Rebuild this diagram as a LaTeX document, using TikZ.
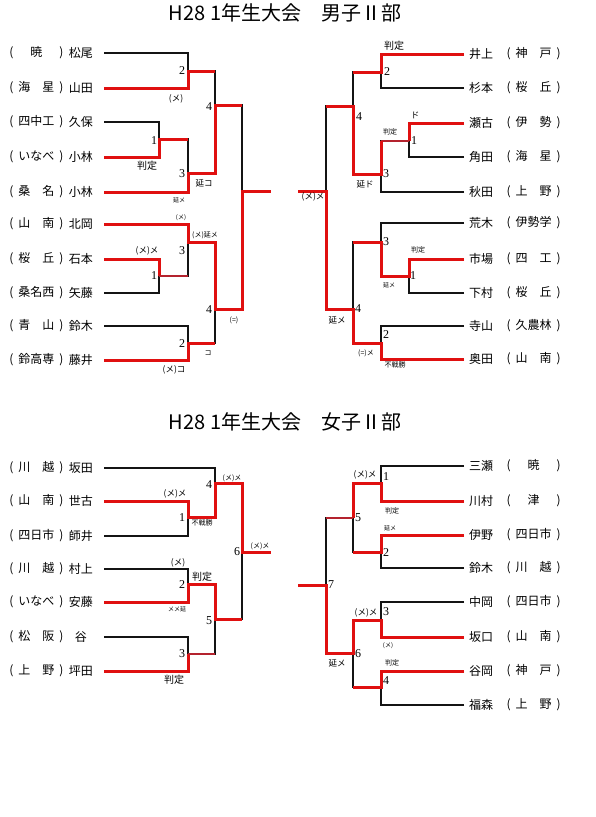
\documentclass[tikz,border=0pt]{standalone}
\usepackage{fontspec}
\setmainfont{Noto Sans CJK JP}
\newfontfamily\numfont{Liberation Serif}
\usepackage{xcolor}
\definecolor{cWin}{HTML}{E01010}
\definecolor{cWinDark}{HTML}{B4232E}
\definecolor{cLine}{HTML}{141414}
\usepackage{tikz}
\usetikzlibrary{positioning}
\newcommand{\sch}[1]{(\hspace{5pt}\makebox[36pt]{#1}\hspace{5pt})}
\tikzset{
  node-title/.style={font=\fontsize{20}{22}\selectfont,inner sep=0pt},
  node-name/.style={font=\fontsize{12}{14}\selectfont,inner sep=0pt,minimum width=24pt},
  node-school/.style={font=\fontsize{12}{14}\selectfont,inner sep=0pt},
  node-num/.style={font=\numfont\fontsize{12}{13}\selectfont,inner sep=0pt},
  node-lab-xs/.style={font=\fontsize{6}{7}\selectfont,inner sep=0pt},
  node-lab-s/.style={font=\fontsize{7}{8}\selectfont,inner sep=0pt},
  node-lab-m/.style={font=\fontsize{8.5}{9}\selectfont,inner sep=0pt},
  node-lab-l/.style={font=\fontsize{10}{11}\selectfont,inner sep=0pt},
  line-lose/.style={draw=cLine,line width=1.2pt},
  line-win/.style={draw=cWin,line width=3pt},
  line-win-thin/.style={draw=cWinDark,line width=1.5pt},
}
\begin{document}
\begin{tikzpicture}[x=1pt,y=-1pt]
  \useasboundingbox (0,0) rectangle (595,817);
  % titles
  \node[node-title] (title-b) at (285,13) {H28 1年生大会　男子Ⅱ部};
  \node[node-title] (title-g) at (285,422) {H28 1年生大会　女子Ⅱ部};

  % ---- boys, left half
  \foreach \i/\y/\nm/\sc in {1/53/松尾/{　暁　},2/88/山田/{海　星},3/122/久保/四中工,
      4/157/小林/いなべ,5/192/小林/{桑　名},6/224/北岡/{山　南},7/259/石本/{桜　丘},
      8/293/矢藤/桑名西,9/326/鈴木/{青　山},10/360/藤井/鈴高専}{
    \coordinate (bl-p\i) at (104,\y);
    \node[node-name,left=11pt of bl-p\i] (bl-n\i) {\nm};
    \node[node-school,left=5pt of bl-n\i] (bl-s\i) {\sch{\sc}};
  }
  \coordinate (bl-m2a) at (188,71);
  \coordinate (bl-m1a) at (159,139);
  \coordinate (bl-m3a) at (188,173);
  \coordinate (bl-m4a) at (215,105);
  \coordinate (bl-m3b) at (188,242);
  \coordinate (bl-m1b) at (159,276);
  \coordinate (bl-m2b) at (188,343);
  \coordinate (bl-m4b) at (215,309);
  \coordinate (bl-f) at (242,191);
  \coordinate (bl-end) at (271,191);

  % ---- boys, right half
  \foreach \i/\y/\nm/\sc in {1/54/井上/{神　戸},2/88/杉本/{桜　丘},3/123/瀬古/{伊　勢},
      4/157/角田/{海　星},5/192/秋田/{上　野},6/223/荒木/伊勢学,7/259/市場/{四　工},
      8/293/下村/{桜　丘},9/326/寺山/久農林,10/359/奥田/{山　南}}{
    \coordinate (br-p\i) at (464,\y);
    \node[node-name,right=5pt of br-p\i] (br-n\i) {\nm};
    \node[node-school,right=13pt of br-n\i] (br-s\i) {\sch{\sc}};
  }
  \coordinate (br-m2a) at (381,72);
  \coordinate (br-m1a) at (409,141);
  \coordinate (br-m3a) at (381,174);
  \coordinate (br-m4a) at (353,106);
  \coordinate (br-m3b) at (381,242);
  \coordinate (br-m1b) at (409,276);
  \coordinate (br-m2b) at (381,343);
  \coordinate (br-m4b) at (353,309);
  \coordinate (br-f) at (326,191);
  \coordinate (br-end) at (298,191);

  % ---- girls, left half
  \foreach \i/\y/\nm/\sc in {1/468/坂田/{川　越},2/501/世古/{山　南},3/536/師井/四日市,
      4/569/村上/{川　越},5/602/安藤/いなべ,6/637/谷/{松　阪},7/671/坪田/{上　野}}{
    \coordinate (gl-p\i) at (104,\y);
    \node[node-name,left=11pt of gl-p\i] (gl-n\i) {\nm};
    \node[node-school,left=5pt of gl-n\i] (gl-s\i) {\sch{\sc}};
  }
  \coordinate (gl-m1) at (188,517);
  \coordinate (gl-m4) at (215,483);
  \coordinate (gl-m2) at (188,584);
  \coordinate (gl-m3) at (188,654);
  \coordinate (gl-m5) at (215,619);
  \coordinate (gl-m6) at (242,552);
  \coordinate (gl-end) at (271,552);

  % ---- girls, right half
  \foreach \i/\y/\nm/\sc in {1/466/三瀬/{　暁　},2/501/川村/{　津　},3/535/伊野/四日市,
      4/568/鈴木/{川　越},5/602/中岡/四日市,6/637/坂口/{山　南},7/671/谷岡/{神　戸},
      8/705/福森/{上　野}}{
    \coordinate (gr-p\i) at (464,\y);
    \node[node-name,right=5pt of gr-p\i] (gr-n\i) {\nm};
    \node[node-school,right=13pt of gr-n\i] (gr-s\i) {\sch{\sc}};
  }
  \coordinate (gr-m1) at (381,483);
  \coordinate (gr-m2) at (381,552);
  \coordinate (gr-m5) at (353,518);
  \coordinate (gr-m3) at (381,620);
  \coordinate (gr-m4) at (381,687);
  \coordinate (gr-m6) at (353,653);
  \coordinate (gr-m7) at (326,585);
  \coordinate (gr-end) at (298,585);

  % bracket lines
  \foreach \a/\b in {bl-p1/bl-m2a,bl-p2/bl-m2a,bl-p3/bl-m1a,bl-p4/bl-m1a,bl-m1a/bl-m3a,
      bl-p5/bl-m3a,bl-m2a/bl-m4a,bl-m3a/bl-m4a,bl-m4a/bl-f,bl-p6/bl-m3b,bl-p7/bl-m1b,
      bl-p8/bl-m1b,bl-m1b/bl-m3b,bl-m3b/bl-m4b,bl-p9/bl-m2b,bl-p10/bl-m2b,bl-m2b/bl-m4b,
      bl-m4b/bl-f,
      br-p1/br-m2a,br-p2/br-m2a,br-p3/br-m1a,br-p4/br-m1a,br-m1a/br-m3a,br-p5/br-m3a,
      br-m2a/br-m4a,br-m3a/br-m4a,br-m4a/br-f,br-p6/br-m3b,br-p7/br-m1b,br-p8/br-m1b,
      br-m1b/br-m3b,br-m3b/br-m4b,br-p9/br-m2b,br-p10/br-m2b,br-m2b/br-m4b,br-m4b/br-f,
      gl-p1/gl-m4,gl-p2/gl-m1,gl-p3/gl-m1,gl-m1/gl-m4,gl-m4/gl-m6,gl-p4/gl-m2,gl-p5/gl-m2,
      gl-p6/gl-m3,gl-p7/gl-m3,gl-m2/gl-m5,gl-m3/gl-m5,gl-m5/gl-m6,
      gr-p1/gr-m1,gr-p2/gr-m1,gr-p3/gr-m2,gr-p4/gr-m2,gr-m1/gr-m5,gr-m2/gr-m5,gr-m5/gr-m7,
      gr-p5/gr-m3,gr-p6/gr-m3,gr-p7/gr-m4,gr-p8/gr-m4,gr-m3/gr-m6,gr-m4/gr-m6,gr-m6/gr-m7}
    \draw[line-lose] (\a) -| (\b);

  % winners
  \draw[line-win] (bl-p2) -| (bl-m2a) -- (bl-m2a -| bl-m4a);
  \draw[line-win] (bl-p4) -| (bl-m1a) -- (bl-m1a -| bl-m3a);
  \draw[line-win] (bl-p5) -| (bl-m3a) -| (bl-m4a) -- (bl-m4a -| bl-f);
  \draw[line-win] (bl-p7) -| (bl-m1b);
  \draw[line-win-thin] (bl-m1b) -- (bl-m1b -| bl-m3b);
  \draw[line-win] (bl-p6) -| (bl-m3b) -| (bl-m4b) -| (bl-f) -- (bl-end);
  \draw[line-win] (bl-p10) -| (bl-m2b) -- (bl-m2b -| bl-m4b);

  \draw[line-win] (br-p1) -| (br-m2a) -- (br-m2a -| br-m4a);
  \draw[line-win] (br-p3) -| (br-m1a);
  \draw[line-win-thin] (br-m1a) -- (br-m1a -| br-m3a);
  \draw[line-win] (br-m1a -| br-m3a) -- (br-m3a) -| (br-m4a) -- (br-m4a -| br-f);
  \draw[line-win] (br-p7) -| (br-m1b) -| (br-m3b) -- (br-m3b -| br-m4b);
  \draw[line-win] (br-p10) -| (br-m2b) -| (br-m4b) -| (br-f) -- (br-end);

  \draw[line-win] (gl-p2) -| (gl-m1) -| (gl-m4) -| (gl-m6) -- (gl-end);
  \draw[line-win] (gl-p5) -| (gl-m2) -| (gl-m5) -- (gl-m5 -| gl-m6);
  \draw[line-win] (gl-p7) -| (gl-m3);
  \draw[line-win-thin] (gl-m3) -- (gl-m3 -| gl-m5);

  \draw[line-win] (gr-p2) -| (gr-m1) -| (gr-m5);
  \draw[line-win-thin] (gr-m5) -- (gr-m5 -| gr-m7);
  \draw[line-win] (gr-p3) -| (gr-m2) -- (gr-m2 -| gr-m5);
  \draw[line-win] (gr-p6) -| (gr-m3) -| (gr-m6) -| (gr-m7) -- (gr-end);
  \draw[line-win] (gr-p7) -| (gr-m4) -- (gr-m4 -| gr-m6);

  % match numbers
  \foreach \x/\y/\t [count=\k] in {182/71/2,154/141/1,182/174/3,209/107/4,182/251/3,
      154/276/1,209/310/4,182/344/2,387/72/2,414/141/1,386/174/3,359/117/4,386/242/3,
      413/276/1,358/309/4,386/335/2,
      209/485/4,182/518/1,237/552/6,182/585/2,209/621/5,182/654/3,
      386/477/1,358/518/5,386/553/2,331/585/7,386/612/3,358/654/6,386/681/4}
    \node[node-num] (num-\k) at (\x,\y) {\t};

  % result marks
  \foreach \x/\y/\t [count=\k] in {179/200/延メ,181/218/{(メ)},389/285/延メ,
      177/609/メメ延,390/528/延メ,388/646/{(メ)}}
    \node[node-lab-xs] (lab-xs-\k) at (\x,\y) {\t};
  \foreach \x/\y/\t [count=\k] in {205/235/{(メ)延メ},234/320/{(=)},208/353/コ,
      390/132/判定,418/250/判定,366/353/{(=)メ},395/365/不戦勝,
      202/523/不戦勝,232/478/{(メ)メ},260/546/{(メ)メ},392/511/判定,392/663/判定}
    \node[node-lab-s] (lab-s-\k) at (\x,\y) {\t};
  \foreach \x/\y/\t [count=\k] in {176/99/{(メ)},204/183/延コ,147/251/{(メ)メ},
      174/370/{(メ)コ},415/115/ド,365/184/延ド,313/197/{(メ)メ},337/320/延メ,
      175/494/{(メ)メ},178/563/{(メ)},365/475/{(メ)メ},366/613/{(メ)メ},337/663/延メ}
    \node[node-lab-m] (lab-m-\k) at (\x,\y) {\t};
  \foreach \x/\y/\t [count=\k] in {147/166/判定,394/46/判定,202/577/判定,174/680/判定}
    \node[node-lab-l] (lab-l-\k) at (\x,\y) {\t};
\end{tikzpicture}
\end{document}
